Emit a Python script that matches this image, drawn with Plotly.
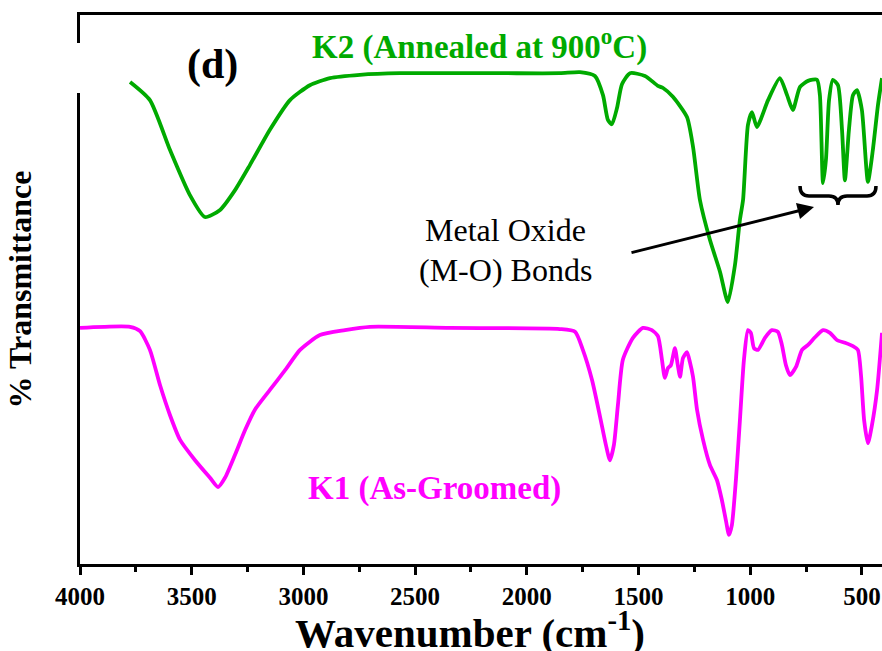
import plotly.graph_objects as go

# FTIR spectra: wavenumber (cm^-1) vs transmittance (a.u., offset for stacking)
k2_wavenumber = [3776, 3687, 3597, 3508, 3441, 3373, 3306, 3239, 3150, 3060, 2971, 2881, 2747,
                 2568, 2120, 1852, 1762, 1695, 1659, 1637, 1619, 1596, 1574, 1538, 1471, 1413,
                 1390, 1346, 1283, 1256, 1225, 1180, 1135, 1100, 1068, 1046, 1032, 1010, 992,
                 970, 920, 867, 835, 809, 777, 741, 701, 688, 674, 661, 647, 630, 607, 589, 576,
                 558, 540, 522, 500, 473, 451, 428, 410]
k2_transmittance = [87.8, 84.5, 75.4, 67.2, 63.2, 64.5, 68.1, 72.7, 79.1, 84.5, 87.2, 88.5, 89.1,
                    89.4, 89.4, 89.4, 89.6, 88.9, 85.4, 80.9, 80.1, 83.1, 87.4, 89.4, 88.9, 87.1,
                    86.7, 85.1, 81.4, 76.0, 66.3, 59.0, 53.2, 47.7, 54.5, 62.7, 66.3, 80.0, 82.3,
                    79.6, 84.5, 88.5, 85.4, 82.7, 86.9, 88.0, 88.2, 85.4, 69.4, 73.6, 84.5, 88.2,
                    87.2, 79.1, 69.9, 79.1, 85.4, 86.3, 82.7, 69.6, 75.4, 83.6, 88.5]

k1_wavenumber = [4000, 3776, 3731, 3687, 3642, 3597, 3552, 3485, 3418, 3382, 3351, 3306, 3261,
                 3217, 3150, 3082, 3015, 2926, 2814, 2702, 2344, 1852, 1784, 1749, 1708, 1672,
                 1646, 1628, 1610, 1592, 1570, 1525, 1480, 1440, 1413, 1395, 1382, 1368, 1355,
                 1337, 1324, 1314, 1301, 1283, 1270, 1256, 1238, 1211, 1180, 1149, 1127, 1109,
                 1095, 1082, 1064, 1046, 1028, 1010, 997, 983, 965, 934, 903, 876, 858, 840, 822,
                 795, 768, 741, 710, 674, 643, 612, 576, 540, 518, 504, 490, 473, 455, 432, 410]
k1_transmittance = [43.0, 43.2, 42.4, 39.0, 32.6, 27.1, 22.6, 18.9, 15.7, 14.0, 15.7, 19.9, 24.4,
                    28.1, 31.7, 35.3, 39.0, 41.7, 42.6, 43.2, 43.0, 42.8, 42.3, 39.0, 33.5, 26.8,
                    21.7, 18.9, 21.7, 29.0, 37.2, 41.2, 43.0, 42.6, 41.5, 37.2, 33.9, 35.7, 36.2,
                    39.3, 36.2, 34.1, 37.5, 38.6, 36.8, 34.1, 28.1, 22.6, 18.0, 15.3, 11.7, 8.0,
                    5.3, 7.1, 15.3, 26.2, 37.2, 42.6, 42.1, 39.3, 39.0, 41.2, 42.6, 42.3, 39.9, 36.2,
                    34.4, 35.9, 39.0, 39.9, 41.3, 42.6, 42.1, 40.8, 40.3, 39.7, 39.0, 34.4, 26.2,
                    22.0, 25.3, 31.7, 42.1]

x_ticks = [4000, 3500, 3000, 2500, 2000, 1500, 1000, 500]

GREEN = "#00AA00"
MAGENTA = "#FF00FF"
SERIF = "Liberation Serif"

W, H = 882, 651
ML, MR, MT, MB = 80, 0, 15, 87
PW, PH = W - ML - MR, H - MT - MB


def px(x):
    return (x - ML) / PW


def py(y):
    return (H - MB - y) / PH


fig = go.Figure()
fig.add_trace(go.Scatter(x=k2_wavenumber, y=k2_transmittance, mode="lines",
                         line=dict(color=GREEN, width=3.8, shape="spline", smoothing=0.6),
                         showlegend=False))
fig.add_trace(go.Scatter(x=k1_wavenumber, y=k1_transmittance, mode="lines",
                         line=dict(color=MAGENTA, width=3.8, shape="spline", smoothing=0.6),
                         showlegend=False))

annotations = [
    dict(x=px(212), y=py(64), text="<b>(d)</b>", font=dict(family=SERIF, size=42, color="black")),
    dict(x=px(479), y=py(45), text="<b>K2 (Annealed at 900<sup>o</sup>C)</b>",
         font=dict(family=SERIF, size=33, color=GREEN)),
    dict(x=px(434), y=py(488), text="<b>K1 (As-Groomed)</b>",
         font=dict(family=SERIF, size=33, color=MAGENTA)),
    dict(x=px(505), y=py(230), text="Metal Oxide", font=dict(family=SERIF, size=32, color="black")),
    dict(x=px(505), y=py(270), text="(M-O) Bonds", font=dict(family=SERIF, size=32, color="black")),
    # x-axis title, set just below the tick labels
    dict(x=px(470), y=py(630), text="<b>Wavenumber (cm<sup>-1</sup>)</b>",
         font=dict(family=SERIF, size=41, color="black")),
    dict(x=px(814), y=py(207), text="", showarrow=True, axref="pixel", ayref="pixel",
         ax=-184, ay=46, arrowhead=2, arrowsize=1.1, arrowwidth=3, arrowcolor="black"),
]
for a in annotations:
    if "showarrow" not in a:
        a["showarrow"] = False
        a["xanchor"] = "center"
        a["yanchor"] = "middle"
    a["xref"] = "paper"
    a["yref"] = "paper"
fig.update_layout(annotations=annotations)


def pt(x, y):
    return f"{px(x):.4f},{py(y):.4f}"


brace = (f"M{pt(800, 186)} Q{pt(800, 196)} {pt(809, 196)} L{pt(829, 196)} "
         f"Q{pt(838, 196)} {pt(838, 205)} Q{pt(838, 196)} {pt(847, 196)} "
         f"L{pt(867, 196)} Q{pt(876, 196)} {pt(876, 186)}")
fig.add_shape(type="path", path=brace, xref="paper", yref="paper",
              line=dict(color="black", width=3.5))
# break in the left spine behind the panel letter
fig.add_shape(type="rect", xref="paper", yref="paper", x0=px(74), x1=px(86), y0=py(93), y1=py(43),
              fillcolor="white", line=dict(width=0), layer="above")

fig.update_xaxes(range=[4000, 410], tickvals=x_ticks, ticktext=[str(v) for v in x_ticks],
                 ticks="outside", ticklen=8, tickwidth=2.5, tickcolor="black",
                 minor=dict(dtick=250, ticks="outside", ticklen=5, tickwidth=2.5, tickcolor="black"),
                 showline=True, linewidth=3, linecolor="black", mirror=True,
                 showgrid=False, zeroline=False,
                 tickfont=dict(family=SERIF, size=25, color="black", weight="bold"))
fig.update_yaxes(range=[0, 100], showticklabels=False, ticks="", showline=True, linewidth=3,
                 linecolor="black", showgrid=False, zeroline=False,
                 title=dict(text="<b>% Transmittance</b>", standoff=36,
                            font=dict(family=SERIF, size=32, color="black")))

fig.update_layout(width=W, height=H, autosize=False,
                  margin=dict(l=ML, r=MR, t=MT, b=MB, autoexpand=False),
                  plot_bgcolor="white", paper_bgcolor="white")

fig.write_html("out.html")
